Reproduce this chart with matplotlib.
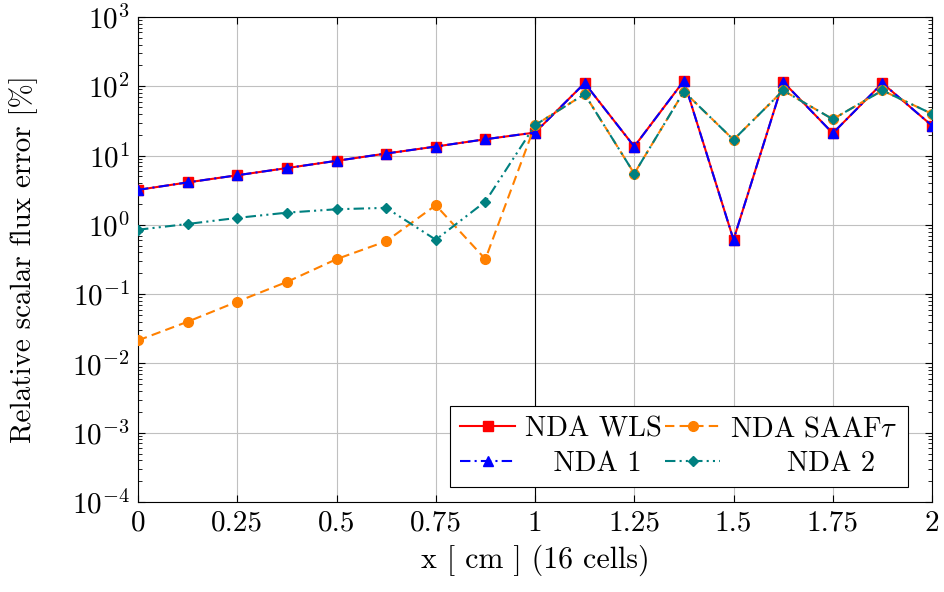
import numpy as np
import matplotlib
matplotlib.use('Agg')
import matplotlib.pyplot as plt
from matplotlib.ticker import LogLocator, NullFormatter

plt.rcParams['font.family'] = ['cmr10', 'DejaVu Serif']
plt.rcParams['mathtext.fontset'] = 'cm'
plt.rcParams['axes.formatter.use_mathtext'] = True
plt.rcParams['axes.unicode_minus'] = False

# 16 cells over 2 cm -> cell edges
x = np.arange(17) * 0.125

wls = [3.2, 4.1, 5.2, 6.6, 8.4, 10.7, 13.5, 17.2, 21.5,
       111, 13.5, 120, 0.61, 116, 21, 111, 27]
nda1 = [3.2, 4.1, 5.2, 6.6, 8.4, 10.7, 13.5, 17.2, 21.5,
        111, 13.5, 120, 0.61, 116, 21, 111, 27]
saaf = [0.0215, 0.040, 0.078, 0.15, 0.32, 0.58, 1.92, 0.32, 27.5,
        77, 5.5, 84, 16.9, 87, 33.5, 87, 40]
nda2 = [0.85, 1.03, 1.26, 1.5, 1.68, 1.76, 0.61, 2.17, 27.5,
        77, 5.5, 84, 16.9, 87, 33.5, 87, 40]

xticks = [0, 0.25, 0.5, 0.75, 1, 1.25, 1.5, 1.75, 2]
xticklabels = ['0', '0.25', '0.5', '0.75', '1', '1.25', '1.5', '1.75', '2']

fig = plt.figure(figsize=(9.44, 5.92), dpi=100)
ax = fig.add_axes([0.1462, 0.152, 0.8411, 0.8193])

ax.plot(x, wls, color='red', ls='-', lw=1.5, marker='s', ms=7,
        label='NDA WLS', zorder=3)
ax.plot(x, nda1, color='blue', ls=(0, (5, 2, 1, 2)), lw=1.5, marker='^', ms=7.5,
        label='   NDA 1', zorder=4)
ax.plot(x, saaf, color='#ff8000', ls=(0, (4.5, 2.5)), lw=1.5, marker='o', ms=7,
        label=r'NDA SAAF$\tau$', zorder=5)
ax.plot(x, nda2, color='#008080', ls=(0, (5, 2, 1, 2, 1, 2)), lw=1.5, marker='D', ms=5.5,
        label='      NDA 2', zorder=6)

ax.axvline(1.0, color='black', lw=0.8, zorder=2)

ax.set_yscale('log')
ax.set_xlim(0, 2)
ax.set_ylim(1e-4, 1e3)
ax.set_xticks(xticks)
ax.set_xticklabels(xticklabels)
ax.yaxis.set_major_locator(LogLocator(base=10, numticks=20))
ax.yaxis.set_minor_locator(LogLocator(base=10, subs=np.arange(2, 10), numticks=20))
ax.yaxis.set_minor_formatter(NullFormatter())

ax.grid(True, which='major', color='#c0c0c0', lw=0.8)
ax.set_axisbelow(True)
ax.tick_params(which='both', direction='in', top=True, right=True, labelsize=21, pad=6)
ax.tick_params(which='major', length=5, width=0.8)
ax.tick_params(which='minor', length=3, width=0.6)
for s in ax.spines.values():
    s.set_linewidth(0.8)

ax.set_xlabel('x [ cm ] (16 cells)', fontsize=21.5, labelpad=6)
ax.set_ylabel('Relative scalar flux error [%]', fontsize=21, labelpad=24)

leg = ax.legend(ncol=2, loc='lower right', bbox_to_anchor=(0.9698, 0.031),
                borderaxespad=0, fontsize=20.5, frameon=True, fancybox=False,
                edgecolor='black', framealpha=1, borderpad=0.35, labelspacing=0.3,
                handlelength=1.95, handletextpad=0.35, columnspacing=0.1)
leg.get_frame().set_linewidth(0.8)

fig.savefig('out.png', dpi=100)
